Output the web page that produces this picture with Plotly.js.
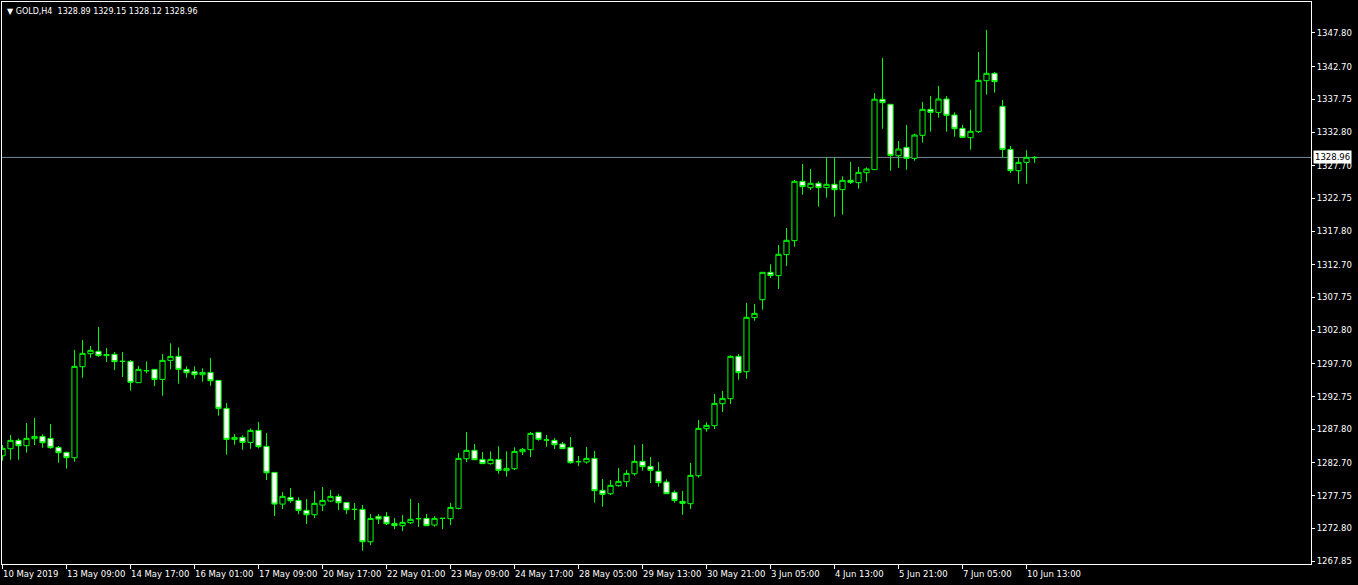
<!DOCTYPE html>
<html>
<head>
<meta charset="utf-8">
<script src="https://cdn.plot.ly/plotly-3.0.1.min.js"></script>
<style>
  html, body { margin: 0; padding: 0; background: #000; }
  #chart { width: 1358px; height: 585px; }
</style>
</head>
<body>
<div id="chart"></div>
<script>
// GOLD, H4 bars from 10 May 2019 01:00 to 10 Jun 2019 17:00 (bar index = position)
const barOpen = [
  1283.79, 1284.86, 1286.12, 1285.31, 1286.37, 1286.72, 1286.42, 1285.06, 1284.30, 1283.49,
  1297.27, 1299.24, 1299.59, 1298.94, 1299.14, 1298.08, 1298.08, 1294.85, 1296.67, 1296.87,
  1295.35, 1298.23, 1298.84, 1296.87, 1296.51, 1296.06, 1296.41, 1295.20, 1290.96, 1286.27,
  1286.57, 1285.81, 1287.63, 1285.21, 1281.27, 1276.47, 1277.48, 1277.03, 1275.52, 1274.86,
  1276.32, 1276.93, 1277.64, 1276.73, 1275.67, 1275.67, 1270.77, 1274.61, 1274.61, 1273.55,
  1273.20, 1273.65, 1274.26, 1274.31, 1273.30, 1274.31, 1274.26, 1275.82, 1283.34, 1284.61,
  1283.24, 1282.59, 1283.24, 1281.53, 1281.83, 1284.40, 1284.71, 1287.33, 1286.17, 1286.12,
  1285.57, 1285.06, 1282.89, 1282.84, 1283.39, 1278.55, 1278.04, 1279.26, 1279.86, 1281.07,
  1282.94, 1282.18, 1281.42, 1279.81, 1278.24, 1276.88, 1276.53, 1280.77, 1287.89, 1288.34,
  1291.67, 1292.43, 1298.84, 1296.52, 1304.70, 1307.42, 1311.56, 1311.06, 1314.24, 1316.36,
  1325.34, 1324.38, 1325.04, 1324.38, 1324.89, 1324.08, 1325.49, 1325.14, 1326.65, 1327.11,
  1337.76, 1337.00, 1329.22, 1330.48, 1328.82, 1332.30, 1336.24, 1335.78, 1337.80, 1335.38,
  1333.36, 1331.95, 1332.86, 1340.58, 1341.69, 1336.69, 1330.18, 1326.95, 1328.21, 1328.89
];
const barHigh = [
  1285.41, 1286.93, 1286.42, 1288.74, 1289.50, 1287.03, 1288.59, 1285.26, 1284.40, 1299.80,
  1301.31, 1300.40, 1303.28, 1300.10, 1299.49, 1299.49, 1298.28, 1297.37, 1298.08, 1296.87,
  1299.19, 1300.81, 1300.20, 1297.32, 1297.32, 1297.02, 1298.58, 1295.20, 1291.77, 1287.07,
  1286.87, 1287.93, 1288.89, 1287.23, 1281.27, 1278.29, 1278.90, 1277.48, 1277.23, 1278.44,
  1279.05, 1278.59, 1277.99, 1276.73, 1276.63, 1276.32, 1274.96, 1274.96, 1275.27, 1274.36,
  1274.81, 1277.24, 1276.63, 1274.96, 1274.66, 1274.36, 1276.63, 1284.20, 1287.38, 1285.57,
  1284.35, 1284.45, 1285.21, 1284.45, 1285.06, 1284.96, 1287.38, 1287.33, 1286.93, 1286.47,
  1285.87, 1286.63, 1283.75, 1285.11, 1284.51, 1280.26, 1280.11, 1281.93, 1281.63, 1285.41,
  1285.57, 1283.60, 1282.84, 1280.21, 1278.55, 1278.45, 1282.69, 1289.20, 1288.85, 1293.14,
  1293.59, 1298.99, 1299.19, 1306.92, 1306.77, 1311.56, 1312.77, 1315.70, 1318.27, 1325.54,
  1327.97, 1327.21, 1325.34, 1328.98, 1328.98, 1326.10, 1328.27, 1327.51, 1327.46, 1338.70,
  1344.02, 1337.00, 1331.44, 1333.87, 1332.55, 1337.35, 1338.26, 1339.77, 1338.26, 1335.78,
  1333.87, 1336.14, 1344.92, 1348.25, 1341.89, 1337.65, 1330.69, 1328.92, 1330.03, 1329.15
];
const barLow = [
  1283.04, 1283.19, 1283.19, 1284.25, 1285.41, 1285.01, 1284.85, 1282.73, 1281.83, 1282.89,
  1295.61, 1298.64, 1298.79, 1297.98, 1296.77, 1295.71, 1293.64, 1294.80, 1296.26, 1294.34,
  1292.88, 1296.87, 1294.70, 1295.61, 1295.45, 1295.00, 1294.39, 1289.85, 1283.95, 1285.46,
  1284.70, 1284.85, 1284.90, 1280.11, 1274.66, 1275.72, 1276.68, 1274.96, 1273.45, 1274.35,
  1275.41, 1276.78, 1275.57, 1274.96, 1274.05, 1269.41, 1270.27, 1273.45, 1273.30, 1272.69,
  1272.39, 1273.45, 1273.00, 1273.20, 1273.05, 1272.69, 1273.30, 1275.67, 1282.84, 1283.19,
  1282.59, 1282.44, 1281.07, 1280.62, 1281.63, 1283.90, 1283.60, 1286.07, 1285.16, 1284.81,
  1284.86, 1282.59, 1282.23, 1282.59, 1276.68, 1276.08, 1277.84, 1279.10, 1279.10, 1280.77,
  1281.53, 1279.66, 1279.10, 1278.04, 1276.68, 1274.86, 1275.72, 1280.47, 1287.43, 1287.84,
  1290.41, 1291.62, 1295.31, 1295.46, 1304.24, 1305.91, 1310.70, 1309.04, 1312.52, 1315.45,
  1323.32, 1324.03, 1321.50, 1322.87, 1319.99, 1320.29, 1324.94, 1324.23, 1325.29, 1327.11,
  1333.29, 1326.95, 1327.40, 1327.10, 1328.46, 1331.19, 1332.86, 1334.98, 1332.86, 1332.10,
  1332.00, 1330.13, 1332.65, 1338.46, 1338.76, 1328.92, 1326.60, 1324.98, 1324.98, 1328.12
];
const barClose = [
  1284.91, 1286.12, 1285.31, 1286.42, 1286.72, 1285.76, 1285.01, 1284.25, 1283.49, 1297.32,
  1299.29, 1299.75, 1298.94, 1299.10, 1298.03, 1298.08, 1294.90, 1296.87, 1296.67, 1295.35,
  1298.23, 1298.84, 1296.87, 1296.36, 1296.06, 1296.41, 1295.15, 1290.96, 1286.27, 1286.57,
  1285.81, 1287.63, 1285.16, 1281.22, 1276.47, 1277.64, 1276.98, 1275.52, 1274.86, 1276.58,
  1277.03, 1277.64, 1276.68, 1275.62, 1275.67, 1270.77, 1274.30, 1274.20, 1273.50, 1273.20,
  1273.70, 1274.16, 1274.26, 1273.20, 1274.31, 1274.31, 1275.97, 1283.39, 1284.61, 1283.19,
  1282.59, 1283.24, 1281.58, 1281.88, 1284.45, 1284.76, 1287.18, 1286.27, 1286.17, 1285.46,
  1284.86, 1282.74, 1282.89, 1283.39, 1278.50, 1277.94, 1279.31, 1279.91, 1281.12, 1282.94,
  1282.13, 1281.58, 1279.71, 1278.04, 1277.03, 1276.58, 1280.82, 1287.94, 1288.39, 1291.72,
  1292.48, 1298.84, 1296.37, 1304.75, 1305.35, 1311.56, 1311.06, 1314.29, 1316.41, 1325.34,
  1324.53, 1325.04, 1324.38, 1324.89, 1324.08, 1325.49, 1325.19, 1326.70, 1327.21, 1337.78,
  1337.25, 1329.27, 1330.23, 1328.82, 1332.35, 1336.24, 1335.78, 1337.80, 1335.33, 1333.31,
  1332.00, 1332.91, 1340.63, 1341.69, 1340.43, 1330.18, 1326.95, 1328.21, 1328.97, 1328.96
];

// time scale labels, one every 8 bars
const timeLabels = [
  "10 May 2019", "13 May 09:00", "14 May 17:00", "16 May 01:00", "17 May 09:00",
  "20 May 17:00", "22 May 01:00", "23 May 09:00", "24 May 17:00", "28 May 05:00",
  "29 May 13:00", "30 May 21:00", "3 Jun 05:00", "4 Jun 13:00", "5 Jun 21:00",
  "7 Jun 05:00", "10 Jun 13:00"
];
const timeLabelStep = 8;

// price scale levels
const priceLevels = [
  1267.85, 1272.80, 1277.75, 1282.70, 1287.80, 1292.75, 1297.70, 1302.80, 1307.75,
  1312.70, 1317.80, 1322.75, 1327.70, 1332.80, 1337.75, 1342.70, 1347.80
];

const symbolName = "GOLD,H4";
const last = barClose.length - 1;
const bidPrice = barClose[last];

const barIndex = barOpen.map((_, i) => i);
const timeTickVals = timeLabels.map((_, k) => k * timeLabelStep);

const font = "DejaVu Sans, Verdana, sans-serif";
const green = "#00ff00";

const trace = {
  type: "candlestick",
  x: barIndex,
  open: barOpen,
  high: barHigh,
  low: barLow,
  close: barClose,
  increasing: { line: { color: green, width: 1 }, fillcolor: "#000000" },
  decreasing: { line: { color: green, width: 1 }, fillcolor: "#ffffff" },
  whiskerwidth: 0,
  hoverinfo: "skip",
  showlegend: false
};

const timeAnnotations = timeLabels.map((t, k) => ({
  text: t,
  x: timeTickVals[k],
  xref: "x",
  y: 0,
  yref: "paper",
  xanchor: "left",
  yanchor: "top",
  xshift: -2,
  yshift: -3,
  showarrow: false,
  font: { family: font, size: 8.5, color: "#ffffff" }
}));

const fmt = v => v.toFixed(2);

const layout = {
  width: 1358,
  height: 585,
  margin: { l: 2, r: 47, t: 2, b: 21, pad: 0 },
  paper_bgcolor: "#000000",
  plot_bgcolor: "#000000",
  showlegend: false,
  boxgap: 0.35,
  boxgroupgap: 0,
  xaxis: {
    range: [-0.0625, 163.5625],
    tickvals: timeTickVals,
    showticklabels: false,
    ticks: "outside",
    ticklen: 4,
    tickcolor: "#ffffff",
    showgrid: false,
    zeroline: false,
    showline: true,
    linecolor: "#ffffff",
    linewidth: 1,
    mirror: true,
    rangeslider: { visible: false },
    fixedrange: true
  },
  yaxis: {
    side: "right",
    range: [1267.40, 1352.49],
    tickvals: priceLevels,
    ticktext: priceLevels.map(fmt),
    ticks: "outside",
    ticklen: 3,
    tickcolor: "#ffffff",
    tickfont: { family: font, size: 8.5, color: "#ffffff" },
    showgrid: false,
    zeroline: false,
    showline: true,
    linecolor: "#ffffff",
    linewidth: 1,
    mirror: true,
    fixedrange: true
  },
  shapes: [{
    type: "line",
    xref: "paper", x0: 0, x1: 1,
    yref: "y", y0: bidPrice, y1: bidPrice,
    line: { color: "#778899", width: 1 },
    layer: "below"
  }],
  annotations: timeAnnotations.concat([
    {
      text: "\u25BC\u00a0" + symbolName + "\u00a0\u00a0" +
        [barOpen[last], barHigh[last], barLow[last], barClose[last]].map(fmt).join("\u00a0"),
      xref: "paper", x: 0, xanchor: "left", xshift: 3,
      yref: "paper", y: 1, yanchor: "top", yshift: -3,
      showarrow: false,
      font: { family: font, size: 8, color: "#ffffff" }
    },
    {
      text: fmt(bidPrice),
      xref: "paper", x: 1, xanchor: "left", xshift: 2,
      yref: "y", y: bidPrice, yanchor: "middle",
      showarrow: false,
      bgcolor: "#ffffff",
      borderpad: 1,
      font: { family: font, size: 8.5, color: "#000000" }
    }
  ])
};

Plotly.newPlot("chart", [trace], layout, { staticPlot: true, displayModeBar: false });
</script>
</body>
</html>
